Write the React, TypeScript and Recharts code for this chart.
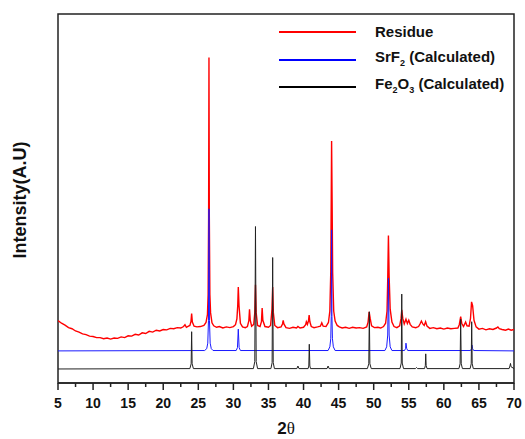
import React from "react";
import { LineChart, Line, XAxis, YAxis, ReferenceArea } from "recharts";

// 2-theta (deg) vs. offset intensity (arbitrary units, 0-100 plot scale)
const residue: [number, number][] = [
  [5.0, 16.9], [5.5, 16.2], [6.0, 15.7], [6.5, 15.0], [7.0, 14.7], [7.5, 14.1],
  [8.0, 13.8], [8.5, 13.3], [9.0, 13.1], [9.5, 12.7], [10.0, 12.6], [10.5, 12.3],
  [11.0, 12.3], [11.5, 12.0], [12.0, 12.2], [12.5, 11.9], [13.0, 12.2], [13.5, 12.1],
  [14.0, 12.5], [14.5, 12.3], [15.0, 12.8], [15.5, 12.7], [16.0, 13.2], [16.5, 13.0],
  [17.0, 13.6], [17.5, 13.4], [18.0, 14.0], [18.5, 13.8], [19.0, 14.3], [19.5, 14.1],
  [20.0, 14.5], [20.5, 14.4], [21.0, 14.8], [21.5, 14.7], [22.0, 15.0], [22.5, 14.9],
  [22.9, 15.3], [23.1, 15.8], [23.3, 15.1], [23.6, 15.4], [23.8, 15.6], [23.95, 16.6],
  [24.05, 18.8], [24.15, 16.5], [24.4, 15.4], [24.8, 15.2], [25.3, 15.3], [25.8, 15.6],
  [26.1, 16.4], [26.3, 18.5], [26.4, 24.0], [26.47, 45.0], [26.52, 88.2], [26.57, 45.0],
  [26.65, 24.0], [26.75, 19.0], [26.95, 16.3], [27.2, 15.5], [27.6, 15.1], [28.0, 15.3],
  [28.5, 14.9], [29.0, 15.2], [29.5, 15.0], [30.0, 15.3], [30.3, 15.8], [30.5, 17.4],
  [30.62, 21.0], [30.7, 26.0], [30.8, 21.0], [31.0, 16.2], [31.3, 15.2], [31.7, 15.0],
  [32.0, 15.3], [32.2, 16.8], [32.3, 20.0], [32.4, 17.0], [32.6, 15.4], [32.9, 15.9],
  [33.05, 19.0], [33.15, 26.6], [33.25, 19.0], [33.45, 15.6], [33.8, 15.3], [34.0, 16.6],
  [34.1, 20.3], [34.2, 17.0], [34.5, 15.3], [35.0, 15.1], [35.3, 15.6], [35.5, 20.0],
  [35.6, 26.0], [35.7, 19.0], [35.9, 15.6], [36.3, 15.0], [36.8, 15.2], [37.0, 16.0],
  [37.1, 17.0], [37.2, 16.0], [37.5, 15.0], [38.0, 14.8], [38.5, 15.1], [39.0, 14.9],
  [39.2, 15.3], [39.5, 14.9], [40.0, 15.1], [40.3, 15.8], [40.4, 16.6], [40.55, 15.9],
  [40.7, 16.8], [40.8, 18.4], [40.9, 16.6], [41.1, 15.3], [41.5, 15.0], [42.0, 15.2],
  [42.4, 15.4], [42.6, 16.3], [42.8, 15.4], [43.2, 15.3], [43.55, 16.4], [43.75, 19.5],
  [43.88, 30.0], [43.95, 50.0], [44.0, 65.6], [44.07, 50.0], [44.15, 30.0], [44.3, 19.5],
  [44.5, 16.8], [44.8, 15.6], [45.1, 15.2], [45.5, 14.9], [46.0, 15.1], [46.5, 14.8],
  [47.0, 15.1], [47.5, 14.9], [48.0, 15.0], [48.5, 14.8], [49.0, 15.2], [49.2, 16.5],
  [49.35, 19.3], [49.5, 17.5], [49.7, 15.5], [50.1, 15.0], [50.6, 15.1], [51.0, 14.9],
  [51.4, 15.3], [51.7, 16.2], [51.9, 19.5], [52.0, 28.0], [52.1, 40.0], [52.2, 29.0],
  [52.35, 20.0], [52.6, 16.5], [52.9, 15.3], [53.3, 15.0], [53.7, 15.5], [53.9, 17.5],
  [54.0, 19.8], [54.15, 17.5], [54.35, 16.0], [54.6, 17.3], [54.8, 16.1], [55.0, 17.0],
  [55.2, 15.9], [55.5, 15.2], [56.0, 15.0], [56.4, 15.3], [56.6, 16.0], [56.8, 16.8],
  [57.0, 16.0], [57.2, 15.6], [57.4, 16.6], [57.6, 15.4], [58.0, 14.8], [58.5, 15.0],
  [59.0, 14.7], [59.5, 14.9], [60.0, 14.6], [60.5, 14.9], [61.0, 14.7], [61.5, 14.8],
  [62.0, 14.9], [62.2, 15.8], [62.4, 18.0], [62.55, 16.2], [62.8, 15.3], [63.1, 16.5],
  [63.3, 15.5], [63.6, 15.4], [63.8, 17.5], [63.95, 22.0], [64.1, 21.0], [64.3, 17.0],
  [64.6, 15.2], [65.0, 14.6], [65.5, 14.8], [66.0, 14.4], [66.5, 14.7], [67.0, 14.5],
  [67.5, 14.9], [67.7, 15.2], [67.9, 14.7], [68.3, 14.5], [68.8, 14.3], [69.2, 14.6],
  [69.6, 14.3], [70.0, 14.5],
];

const srf2: [number, number][] = [
  [5, 8.7], [25.9, 8.8], [26.2, 9.3], [26.35, 10.8], [26.45, 17.0], [26.52, 47.2],
  [26.59, 17.0], [26.69, 10.8], [26.85, 9.3], [27.1, 8.8], [30.4, 8.8], [30.58, 9.6],
  [30.7, 14.6], [30.82, 9.6], [31.0, 8.8], [43.5, 8.8], [43.75, 9.8], [43.88, 12.0],
  [43.95, 18.0], [44.0, 41.5], [44.05, 18.0], [44.12, 12.0], [44.25, 9.8], [44.5, 8.8],
  [51.6, 8.8], [51.85, 9.8], [52.0, 13.0], [52.1, 28.4], [52.2, 13.0], [52.35, 9.8],
  [52.6, 8.8], [54.4, 8.8], [54.55, 9.4], [54.6, 10.8], [54.7, 9.4], [54.85, 8.8],
  [63.8, 8.8], [63.95, 9.3], [64.0, 10.3], [64.1, 9.3], [64.25, 8.8], [70, 8.7],
];

const fe2o3: [number, number][] = [
  [5, 3.8], [23.8, 3.9], [23.98, 5.2], [24.05, 13.9], [24.12, 5.2], [24.3, 3.9],
  [32.85, 3.9], [33.05, 5.8], [33.15, 42.4], [33.25, 5.8], [33.45, 3.9], [35.35, 3.9],
  [35.52, 5.5], [35.6, 34.0], [35.68, 5.5], [35.85, 3.9], [39.05, 3.9], [39.2, 4.6],
  [39.35, 3.9], [40.65, 3.9], [40.75, 4.6], [40.82, 10.5], [40.9, 4.6], [41.0, 3.9],
  [43.35, 3.9], [43.5, 4.6], [43.65, 3.9], [49.1, 3.9], [49.3, 5.2], [49.38, 19.3],
  [49.46, 5.2], [49.65, 3.9], [53.75, 3.9], [53.93, 5.4], [54.0, 24.1], [54.07, 5.4],
  [54.25, 3.9], [55.95, 3.9], [56.1, 4.2], [56.25, 3.9], [57.25, 3.9], [57.36, 4.7],
  [57.42, 7.9], [57.48, 4.7], [57.6, 3.9], [62.15, 3.9], [62.32, 5.2], [62.4, 17.3],
  [62.48, 5.2], [62.65, 3.9], [63.75, 3.9], [63.9, 5.2], [63.97, 16.6], [64.04, 5.2],
  [64.2, 3.9], [69.3, 3.9], [69.42, 4.6], [69.5, 5.3], [69.58, 4.4], [70, 3.9],
];

const xTicks = [5, 7.5, 10, 12.5, 15, 17.5, 20, 22.5, 25, 27.5, 30, 32.5, 35, 37.5, 40, 42.5, 45, 47.5, 50, 52.5, 55, 57.5, 60, 62.5, 65, 67.5, 70];

const toPoints = (arr: [number, number][]) => arr.map(([x, y]) => ({ x, y }));

const FONT = "'Liberation Sans', Arial, sans-serif";
const AXIS = "#222";

function XTick(props: any) {
  const { x, y, payload } = props;
  const major = payload.value % 5 === 0;
  return (
    <g>
      <line x1={x} x2={x} y1={y} y2={y + (major ? 7 : 4)} stroke={AXIS} strokeWidth={1.5} />
      {major && (
        <text x={x} y={y + 25} textAnchor="middle" fontFamily={FONT} fontWeight="bold" fontSize={14} fill="#111">
          {payload.value}
        </text>
      )}
    </g>
  );
}

const legendItems = [
  { color: "#ff0000", label: <>Residue</> },
  { color: "#0000ff", label: <>SrF<sub style={{ fontSize: 9 }}>2</sub> (Calculated)</> },
  { color: "#000000", label: <>Fe<sub style={{ fontSize: 9 }}>2</sub>O<sub style={{ fontSize: 9 }}>3</sub> (Calculated)</> },
];

export default function App() {
  return (
    <div style={{ position: "absolute", left: 0, top: 0, width: 525, height: 439, background: "#fff", overflow: "hidden" }}>
      <LineChart width={525} height={439} margin={{ top: 14, right: 11, left: 58, bottom: 0 }}>
        <XAxis
          type="number"
          dataKey="x"
          domain={[5, 70]}
          ticks={xTicks}
          interval={0}
          allowDataOverflow
          height={56}
          tickSize={0}
          tickMargin={0}
          tickLine={false}
          axisLine={{ stroke: AXIS, strokeWidth: 1.5 }}
          tick={<XTick />}
        />
        <YAxis type="number" domain={[0, 100]} hide allowDataOverflow />
        <ReferenceArea x1={5} x2={70} y1={0} y2={100} fill="none" stroke={AXIS} strokeWidth={1.5} ifOverflow="visible" />
        <Line data={toPoints(residue)} dataKey="y" stroke="#ff0000" strokeWidth={1.4} dot={false} isAnimationActive={false} />
        <Line data={toPoints(srf2)} dataKey="y" stroke="#1a1aff" strokeWidth={1} dot={false} isAnimationActive={false} />
        <Line data={toPoints(fe2o3)} dataKey="y" stroke="#222" strokeWidth={1} dot={false} isAnimationActive={false} />
      </LineChart>
      {legendItems.map((it, i) => (
        <div key={i} style={{ position: "absolute", left: 279, top: 22 + i * 27.7, height: 20, display: "flex", alignItems: "center" }}>
          <div style={{ width: 77, height: 2, background: it.color }} />
          <div style={{ marginLeft: 19, fontFamily: FONT, fontWeight: "bold", fontSize: 15, color: "#111", lineHeight: "20px", whiteSpace: "nowrap" }}>
            {it.label}
          </div>
        </div>
      ))}
      <div
        style={{
          position: "absolute", left: 20, top: 200, transform: "translate(-50%, -50%) rotate(-90deg)",
          fontFamily: FONT, fontWeight: "bold", fontSize: 18, color: "#111", whiteSpace: "nowrap",
        }}
      >
        Intensity(A.U)
      </div>
      <div style={{ position: "absolute", left: 286, top: 419, height: 20, lineHeight: "20px", transform: "translateX(-50%)", whiteSpace: "nowrap", color: "#111" }}>
        <span style={{ fontFamily: FONT, fontWeight: "bold", fontSize: 17 }}>2</span>
        <span style={{ fontFamily: "'Liberation Serif', serif", fontSize: 17 }}>θ</span>
      </div>
    </div>
  );
}
